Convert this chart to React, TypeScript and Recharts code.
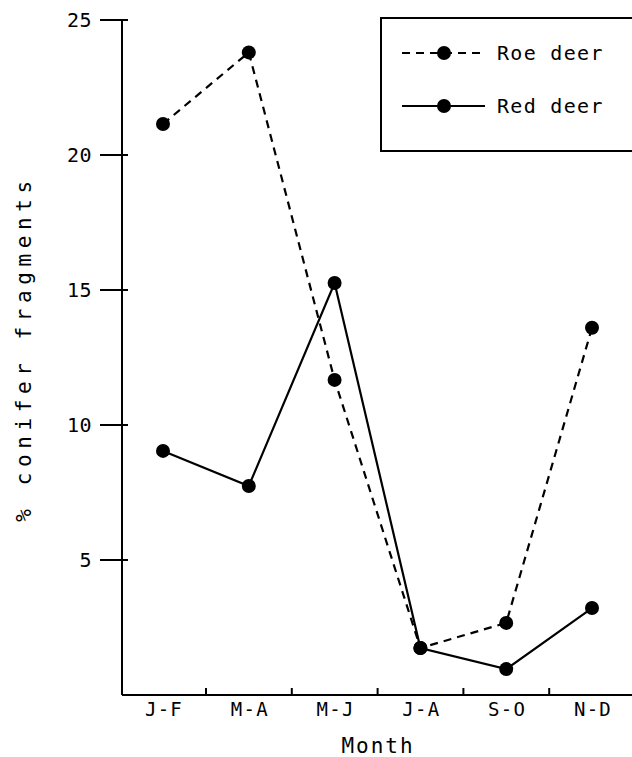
import React from 'react';
import { LineChart, Line, XAxis, YAxis, Legend } from 'recharts';

// bimonthly periods
const months = ['J-F', 'M-A', 'M-J', 'J-A', 'S-O', 'N-D'];
// % conifer fragments in the diet
const roeDeer = [21.15, 23.8, 11.67, 1.74, 2.67, 13.6];
const redDeer = [9.04, 7.74, 15.26, 1.74, 0.96, 3.22];
const yTicks = [5, 10, 15, 20, 25];

const data = months.map((month, i) => ({ month, roe: roeDeer[i], red: redDeer[i] }));

const FONT = '"DejaVu Sans Mono", "Liberation Mono", monospace';

const series = [
  { key: 'roe', name: 'Roe deer', dash: '8 6' },
  { key: 'red', name: 'Red deer', dash: undefined as string | undefined },
];

const MonthTick = (props: any) => {
  const { x, y, payload, index } = props;
  return (
    <g>
      {index < months.length - 1 && (
        <line x1={x + 43} x2={x + 43} y1={y - 7} y2={y} stroke="#000" strokeWidth={2} />
      )}
      <text
        x={x + 1}
        y={y + 21}
        textAnchor="middle"
        fontFamily={FONT}
        fontSize={19}
        letterSpacing={1.3}
        fill="#000"
      >
        {payload.value}
      </text>
    </g>
  );
};

const ValueTick = (props: any) => {
  const { x, y, payload } = props;
  return (
    <g>
      <line x1={x - 22} x2={x + 6} y1={y} y2={y} stroke="#000" strokeWidth={2} />
      <text
        x={x - 30}
        y={y}
        dy="0.36em"
        textAnchor="end"
        fontFamily={FONT}
        fontSize={20}
        letterSpacing={0.5}
        fill="#000"
      >
        {payload.value}
      </text>
    </g>
  );
};

const YTitle = (props: any) => {
  const vb = props.viewBox || { x: 0, y: 20, width: 122, height: 675 };
  const cx = vb.x + 24;
  const cy = vb.y + vb.height / 2 - 9;
  return (
    <text
      x={cx}
      y={cy}
      transform={`rotate(-90, ${cx}, ${cy})`}
      textAnchor="middle"
      dominantBaseline="central"
      fontFamily={FONT}
      fontSize={21}
      letterSpacing={5.6}
      fill="#000"
    >
      % conifer fragments
    </text>
  );
};

const XTitle = (props: any) => {
  const vb = props.viewBox || { x: 122, y: 695, width: 510, height: 62 };
  return (
    <text
      x={vb.x + vb.width / 2 + 1}
      y={vb.y + 58}
      textAnchor="middle"
      fontFamily={FONT}
      fontSize={21}
      letterSpacing={2}
      fill="#000"
    >
      Month
    </text>
  );
};

const LegendBox = () => (
  <div style={{ width: 250, height: 131, border: '2px solid #000', borderRight: 'none' }}>
    <svg width={250} height={131} style={{ display: 'block' }}>
      {series.map((s, i) => {
        const cy = 34 + i * 53;
        return (
          <g key={s.key}>
            <line x1={20} x2={103} y1={cy} y2={cy} stroke="#000" strokeWidth={2} strokeDasharray={s.dash} />
            <circle cx={62} cy={cy} r={7} fill="#000" />
            <text
              x={115}
              y={cy}
              dy="0.36em"
              fontFamily={FONT}
              fontSize={20}
              letterSpacing={1.3}
              fill="#000"
            >
              {s.name}
            </text>
          </g>
        );
      })}
    </svg>
  </div>
);

export default function App() {
  return (
    <div style={{ position: 'absolute', left: 0, top: 0, background: '#fff' }}>
      <LineChart width={632} height={757} data={data} margin={{ top: 20, right: 0, bottom: 0, left: 0 }}>
        <XAxis
          dataKey="month"
          scale="point"
          padding={{ left: 41, right: 40 }}
          interval={0}
          height={62}
          tickSize={0}
          tickMargin={0}
          tickLine={false}
          axisLine={{ stroke: '#000', strokeWidth: 2 }}
          tick={<MonthTick />}
          label={<XTitle />}
        />
        <YAxis
          type="number"
          domain={[0, 25]}
          ticks={yTicks}
          width={122}
          tickSize={0}
          tickMargin={0}
          tickLine={false}
          axisLine={{ stroke: '#000', strokeWidth: 2 }}
          tick={<ValueTick />}
          label={<YTitle />}
        />
        <Legend
          layout="horizontal"
          verticalAlign="middle"
          align="center"
          wrapperStyle={{ position: 'absolute', left: 380, top: 17, width: 252, height: 135 }}
          content={() => <LegendBox />}
        />
        {series.map((s) => (
          <Line
            key={s.key}
            dataKey={s.key}
            name={s.name}
            stroke="#000"
            strokeWidth={2.2}
            strokeDasharray={s.dash}
            dot={{ r: 7, fill: '#000', stroke: 'none' }}
            activeDot={false}
            isAnimationActive={false}
          />
        ))}
      </LineChart>
    </div>
  );
}
